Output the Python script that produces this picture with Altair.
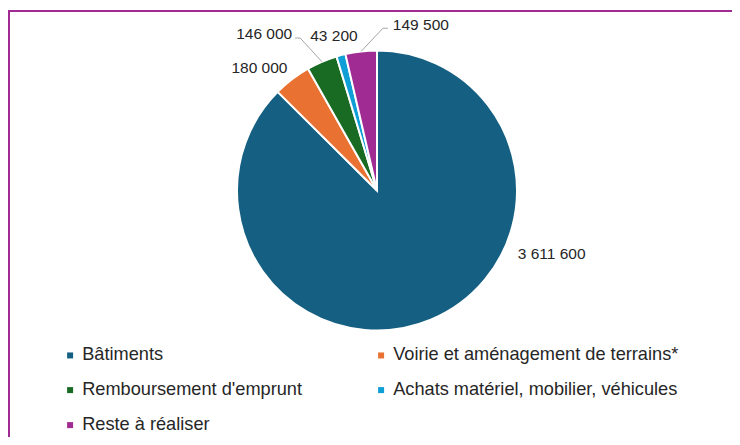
import math
import altair as alt
import pandas as pd

# ---- data ----
categories = [
    "Bâtiments",
    "Voirie et aménagement de terrains*",
    "Remboursement d'emprunt",
    "Achats matériel, mobilier, véhicules",
    "Reste à réaliser",
]
values = [3611600, 180000, 146000, 43200, 149500]
colors = ["#156082", "#E97132", "#196B24", "#0F9ED5", "#A02B93"]

# ---- label layout (angle nudge in degrees from slice middle, radius px, alignment) ----
label_nudge = [-47.3, -6.4, -5.3, -0.7, 12.0]
label_radius = [186, 170, 178, 160, 166]
label_align = ["center", "center", "right", "center", "left"]
has_leader = [False, False, True, False, True]

CX, CY, R = 369, 182.5, 140
FONT = "Liberation Sans"
TEXT_COLOR = "#262626"

total = sum(values)
rows, label_rows, leader_rows = [], [], []
cum = 0.0
for i, (c, v) in enumerate(zip(categories, values)):
    start = cum / total * 360
    cum += v
    end = cum / total * 360
    mid = (start + end) / 2
    rows.append({"category": c, "value": v, "idx": i})
    a = math.radians(mid + label_nudge[i])
    lx = CX + label_radius[i] * math.sin(a)
    ly = CY - label_radius[i] * math.cos(a)
    label_rows.append({
        "label": f"{v:,}".replace(",", " "),
        "lx": lx, "ly": ly, "align": label_align[i],
    })
    if has_leader[i]:
        m = math.radians(mid)
        ex, ey = CX + R * math.sin(m), CY - R * math.cos(m)
        if label_align[i] == "right":
            pts = [(ex, ey), (lx + 8, ly + 4), (lx + 3, ly + 4)]
        else:
            pts = [(ex, ey), (lx - 10, ly + 3), (lx - 5, ly + 3)]
        for k, (px, py) in enumerate(pts):
            leader_rows.append({"leader": c, "k": k, "px": px, "py": py})

df = pd.DataFrame(rows)
labels_df = pd.DataFrame(label_rows)
leaders_df = pd.DataFrame(leader_rows)
frame_df = pd.DataFrame({"f": [0]})

frame = alt.Chart(frame_df).mark_rect(
    fillOpacity=0, stroke="#A02B93", strokeWidth=2
).encode(
    x=alt.value(1), y=alt.value(3), x2=alt.value(800), y2=alt.value(500)
)

pie = alt.Chart(df).mark_arc(
    outerRadius=R, stroke="white", strokeWidth=2
).encode(
    theta=alt.Theta("value:Q", stack=True),
    order=alt.Order("idx:Q"),
    color=alt.Color(
        "category:N",
        scale=alt.Scale(domain=categories, range=colors),
        sort=categories,
        legend=alt.Legend(
            title=None,
            orient="none",
            direction="horizontal",
            legendX=53,
            legendY=338,
            columns=2,
            symbolType="square",
            symbolSize=36,
            symbolStrokeWidth=0,
            labelFont=FONT,
            labelFontSize=18.2,
            labelColor=TEXT_COLOR,
            labelOffset=3,
            labelLimit=500,
            columnPadding=69,
            rowPadding=16,
            padding=0,
        ),
    ),
    x=alt.value(CX),
    y=alt.value(CY),
)

leaders = alt.Chart(leaders_df).mark_line(
    color="#A6A6A6", strokeWidth=1
).encode(
    x=alt.X("px:Q", scale=None),
    y=alt.Y("py:Q", scale=None),
    detail="leader:N",
    order="k:Q",
)

def label_layer(al):
    return alt.Chart(labels_df).transform_filter(
        alt.datum.align == al
    ).mark_text(
        align=al, baseline="middle", font=FONT, fontSize=15.5, color=TEXT_COLOR
    ).encode(
        x=alt.X("lx:Q", scale=None),
        y=alt.Y("ly:Q", scale=None),
        text="label:N",
    )

chart = alt.layer(
    frame, pie, leaders,
    label_layer("center"), label_layer("left"), label_layer("right"),
).properties(
    width=724, height=429, padding=0, background="white",
    autosize=alt.AutoSizeParams(type="none"),
).configure_view(stroke=None)

chart.save("out.html", embed_options={"renderer": "svg", "actions": False})
